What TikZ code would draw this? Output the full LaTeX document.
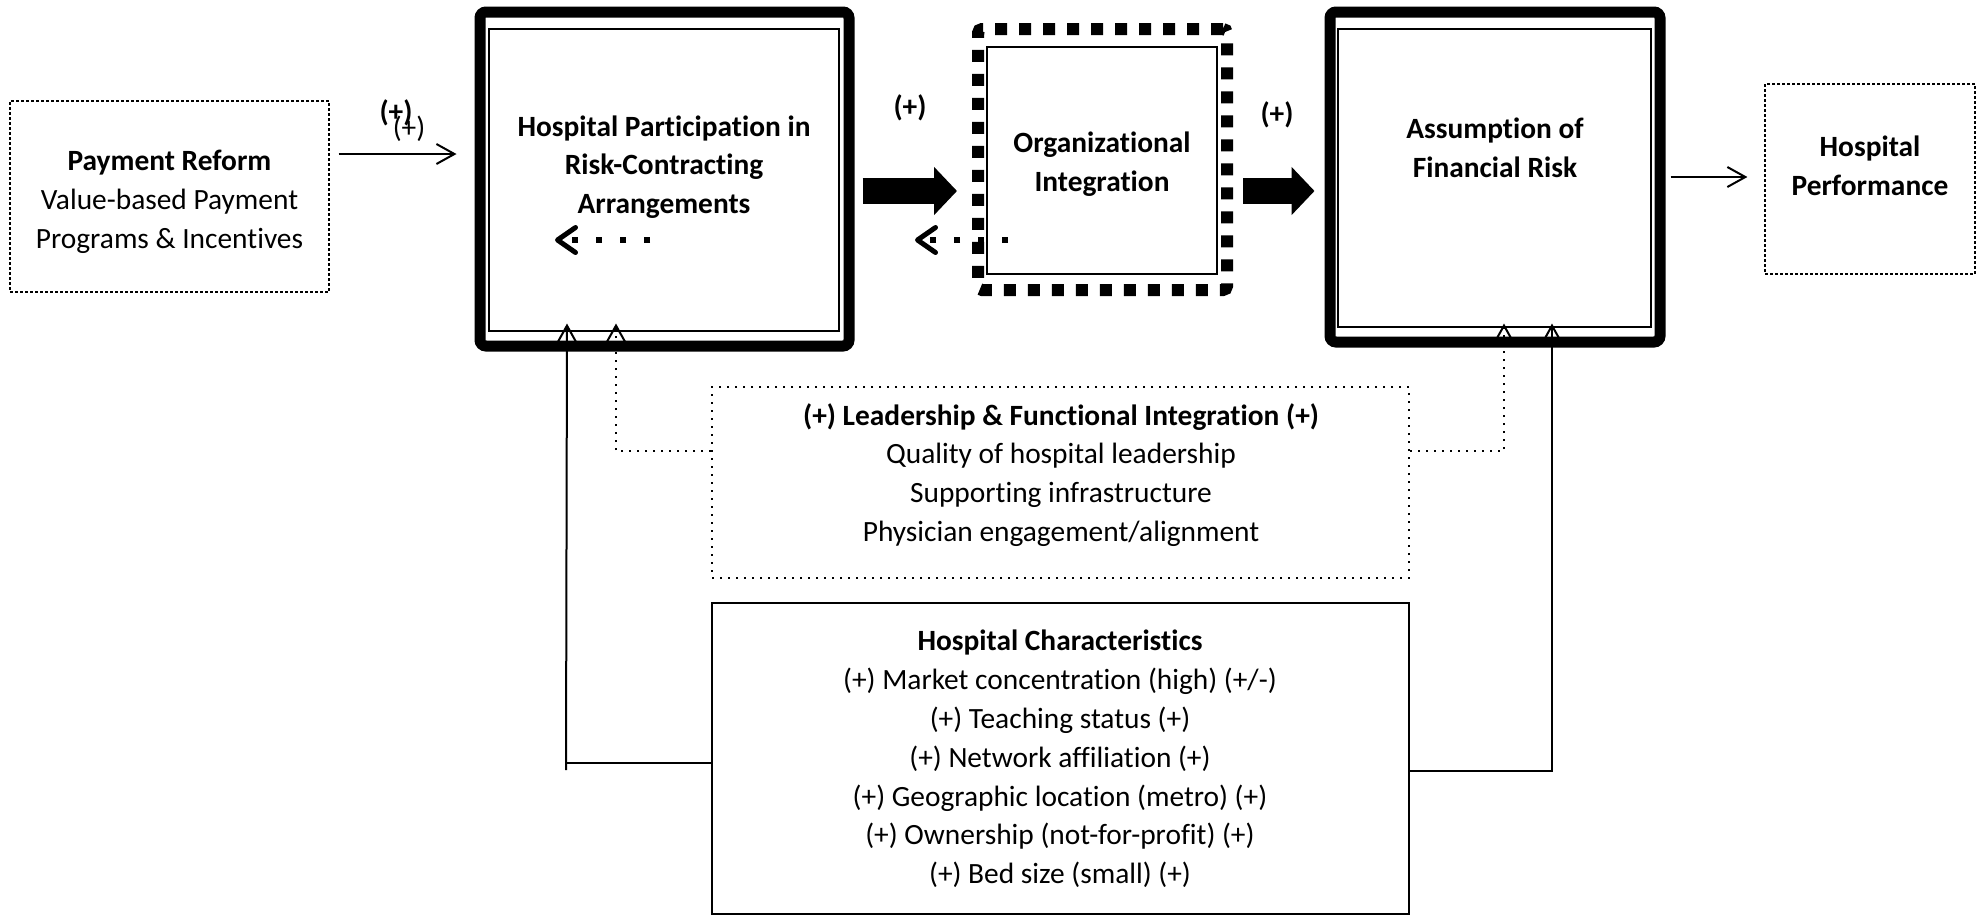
\documentclass[tikz,border=0pt]{standalone}
\usepackage{fontspec}
\setmainfont{Carlito}[Ligatures=NoCommon]
\usetikzlibrary{arrows.meta,calc}

\begin{document}
\begin{tikzpicture}[x=0.5pt,y=-0.5pt,
  font=\fontsize{14.7}{19.4}\selectfont,
  box/.style={draw, rectangle, inner sep=0pt, fill=white},
  thinbox/.style={box, line width=1pt},
  heavybox/.style={box, line width=5.5pt, rounded corners=3pt},
  chainbox/.style={box, line width=6pt, dash pattern=on 6pt off 6pt, rounded corners=2pt},
  finedash/.style={box, line width=0.6pt, dash pattern=on 1.5pt off 1pt},
  dotbox/.style={box, line width=1pt, dash pattern=on 1pt off 3pt},
  txt/.style={align=center, inner sep=0pt},
  boldtxt/.style={txt, font=\fontsize{14.7}{19.4}\selectfont\bfseries},
  openhead/.style={line width=1pt, -{Straight Barb[length=9pt,width=10pt,line width=1pt]}},
  dotlink/.style={line width=1pt, dash pattern=on 1pt off 3pt, -{Straight Barb[length=8.5pt,width=9.5pt,line width=1pt]}},
  bigarrow/.style={line width=13pt, -{Triangle[length=11.5pt,width=23.5pt]}},
  backdots/.style={line width=3pt, dash pattern=on 3pt off 9pt, -{Straight Barb[length=9pt,width=12.5pt,line width=2.5pt,round]}},
  sign/.style={inner sep=0pt}
]
\useasboundingbox (0,0) rectangle (1982,916);

% main boxes
\node[finedash, minimum width=159.5pt, minimum height=95.5pt] (pr) at (169.5,196.5) {};
\node[heavybox, minimum width=184.5pt, minimum height=167pt] (part) at (664.5,179) {};
\node[thinbox, minimum width=175pt, minimum height=151pt] (partIn) at (664,180) {};
\node[chainbox, minimum width=124.5pt, minimum height=130.5pt] (org) at (1102.5,159.5) {};
\node[thinbox, minimum width=115pt, minimum height=113.5pt] (orgIn) at (1102,160.5) {};
\node[heavybox, minimum width=165pt, minimum height=165pt] (as) at (1495,177) {};
\node[thinbox, line width=0.8pt, minimum width=156.5pt, minimum height=149pt] (asIn) at (1494.5,178) {};
\node[finedash, minimum width=105pt, minimum height=95pt] (perf) at (1870,179) {};
\node[dotbox, minimum width=348.5pt, minimum height=95.5pt] (lead) at (1060.5,482.5) {};
\node[thinbox, minimum width=348.5pt, minimum height=155.5pt] (chars) at (1060.5,758.5) {};

% box texts
\node[txt] (prText) at (169.5,202) {\textbf{Payment Reform}\\Value-based Payment\\Programs \& Incentives};
\node[boldtxt] (partText) at (664,167) {Hospital Participation in\\Risk-Contracting\\Arrangements};
\node[boldtxt] (orgText) at (1102,164) {Organizational\\Integration};
\node[boldtxt] (asText) at (1495,148) {Assumption of\\Financial Risk};
\node[boldtxt] (perfText) at (1870,166) {Hospital\\Performance};
\node[txt] (leadText) at (1061,475) {\textbf{(+) Leadership \& Functional Integration (+)}\\Quality of hospital leadership\\Supporting infrastructure\\Physician engagement/alignment};
\node[txt] (charsText) at (1060,759) {\textbf{Hospital Characteristics}\\(+) Market concentration (high) (+/-)\\(+) Teaching status (+)\\(+) Network affiliation (+)\\(+) Geographic location (metro) (+)\\(+) Ownership (not-for-profit) (+)\\(+) Bed size (small) (+)};

% effect signs
\node[sign] (s1) at (409,129) {(+)};
\node[sign, font=\fontsize{14.7}{19.4}\selectfont\bfseries] (s0) at (396,113) {(+)};
\node[sign, font=\fontsize{14.7}{19.4}\selectfont\bfseries] (s2) at (910,108) {(+)};
\node[sign, font=\fontsize{14.7}{19.4}\selectfont\bfseries] (s3) at (1277,115) {(+)};

% main chain
\draw[openhead] ($(pr.east)+(9,-42.5)$) -- ($(part.west)+(-18,-25)$);
\draw[bigarrow] ($(part.east)+(8,12)$) -- ($(org.west)+(-15,31.5)$);
\draw[bigarrow] ($(org.east)+(10,31.5)$) -- ($(as.west)+(-10,14)$);
\draw[openhead] ($(as.east)+(5,0)$) -- ($(perf.west)+(-17,-2)$);

% hospital characteristics links
\draw[line width=1pt] ($(chars.west)+(0,4.5)$) -- ++(-145,0);
\draw[openhead] ($(chars.west)+(-145,11.5)$) -- ($(part.south)+(-97.5,-28)$);
\draw[openhead] ($(chars.east)+(0,12.5)$) -| ($(as.south)+(57,-24)$);

% leadership links
\draw[dotlink] ($(lead.west)+(0,-31.5)$) -| ($(part.south)+(-48.5,-28)$);
\draw[dotlink] ($(lead.east)+(0,-31.5)$) -| ($(as.south)+(9,-24)$);

% feedback arrows
\coordinate (fbA) at (650,240);
\coordinate (fbB) at (555,240);
\coordinate (fbC) at (1008,240);
\coordinate (fbD) at (915,240);
\draw[backdots] (fbA) -- (fbB);
\draw[backdots] (fbC) -- (fbD);
\end{tikzpicture}
\end{document}
